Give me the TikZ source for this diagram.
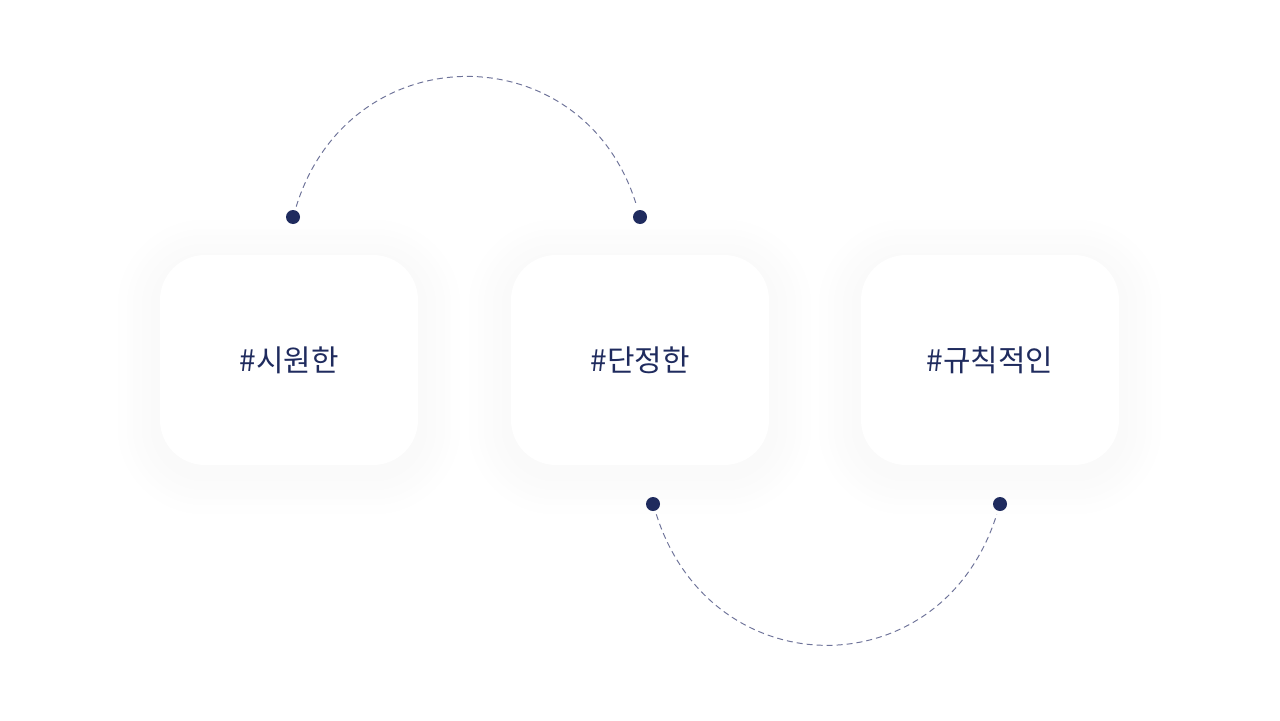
\documentclass[tikz,border=0pt]{standalone}
\usepackage{fontspec}
\newfontfamily\kofont{Noto Sans CJK KR}
\usetikzlibrary{backgrounds}
\definecolor{navy}{HTML}{1F2B5E}
\definecolor{dashgray}{HTML}{6E7399}
\tikzset{
	boxshape/.style={rounded corners=0.9cm,minimum width=5.16cm,minimum height=4.2cm},
	tagbox/.style={boxshape,draw=none,fill=white,
		font=\kofont\fontsize{17}{20}\selectfont,text=navy},
	softshadow/.style={boxshape,inner sep=0pt},
	dotnode/.style={circle,fill=navy,inner sep=0pt,minimum size=0.28cm},
	hop/.style={draw=dashgray,line width=0.55pt,dash pattern=on 3.4pt off 2.3pt,
		shorten <=2pt,shorten >=2pt},
}
\begin{document}
\begin{tikzpicture}[x=0.02cm,y=-0.02cm]
		\useasboundingbox (0,0) rectangle (1280,720);
		\path
			 (289,360) node[tagbox]  (cool)       {\#시원한}
			+(  4,-143) node[dotnode] (cooltop)    {}
			 (640,360) node[tagbox]  (firm)       {\#단정한}
			+(  0,-143) node[dotnode] (firmtop)    {}
			+( 13, 144) node[dotnode] (firmbottom) {}
			 (990,360) node[tagbox]  (regular)    {\#규칙적인}
			+( 10, 144) node[dotnode] (regularbottom) {}
		;
		\draw[hop] (cooltop)    .. controls (350,33) and (585,33) .. (firmtop);
		\draw[hop] (firmbottom) .. controls (712,689) and (942,689) .. (regularbottom);
		% soft shadows behind the boxes
		\begin{scope}[on background layer]
			\fill[white] (0,0) rectangle (1280,720);
			\foreach \b in {cool,firm,regular}{
				\foreach \k in {15,14,...,1}{
					\pgfmathsetmacro\tint{0.14*(16-\k)}
					\pgfmathsetlengthmacro\lw{0.12cm*\k}
					\node[softshadow,fill=black!\tint!white,draw=black!\tint!white,
						line width=\lw]
						at ([yshift=-0.14cm]\b.center) {};
				}
			}
		\end{scope}
	\end{tikzpicture}
\end{document}
